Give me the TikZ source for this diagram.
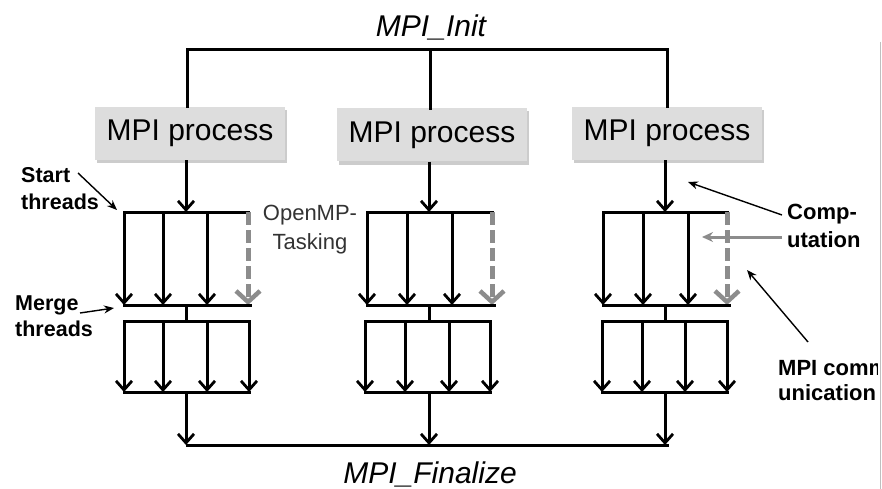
\documentclass[tikz,border=0pt]{standalone}
\usepackage{fontspec}
\setmainfont{Liberation Sans}
\usetikzlibrary{arrows.meta,shadows}
\definecolor{boxgray}{HTML}{DDDDDD}
\definecolor{dashgray}{HTML}{8C8C8C}
\definecolor{txtgray}{HTML}{333333}
\begin{document}
\begin{tikzpicture}[x=1pt,y=-1pt,
  bar/.style={line width=3pt,line cap=rect},
  arr/.style={line width=3pt,-{Straight Barb[length=9pt,width=16pt,line width=2.8pt]}},
  darr/.style={line width=5pt,draw=dashgray,dash pattern=on 13pt off 5pt,-{Straight Barb[length=11pt,width=24pt,line width=4.5pt]}},
  proc/.style={fill=boxgray,minimum width=190pt,minimum height=53pt,inner sep=0pt,
    font=\fontsize{30}{30}\selectfont,
    drop shadow={shadow xshift=2pt,shadow yshift=-3pt,opacity=0.4}},
  lbl/.style={font=\bfseries\fontsize{21.5}{27}\selectfont,align=left,inner sep=0pt,anchor=north west},
  title/.style={font=\itshape\fontsize{30}{30}\selectfont,inner sep=0pt,anchor=base},
  pointer/.style={line width=1.4pt,-{Stealth[length=10pt,width=8pt]}},
  gpointer/.style={line width=3pt,draw=dashgray,-{Stealth[length=11pt,width=10pt]}}
]
\useasboundingbox (0,0) rectangle (882,489);
\fill[white] (0,0) rectangle (882,489);
\draw[black!25,line width=0.8pt] (880,42) -- (880,489);

% MPI_Init and MPI_Finalize
\node[title] (init) at (431,37) {MPI\_Init};
\node[title] (fin) at (430,483) {MPI\_Finalize};
\coordinate (iL) at (187,50);
\coordinate (iR) at (667,50);
\coordinate (fL) at (187,445);
\coordinate (fR) at (667,445);
\draw[bar] (iL) -- (iR);
\draw[bar] (fL) -- (fR);

\foreach \g/\tx/\cx/\bx/\by/\a/\b/\c/\d/\e/\f/\h/\k in {
  1/187/186/190/133.5/124/163/207/248/124/163/207/249,
  2/430/429/432/135/367/407/452/492/365/405/449/490,
  3/667/665/667/133.5/603/643/688/727/602/642/685/727}{
  \node[proc] (p\g) at (\bx,\by) {MPI process};
  \coordinate (top\g) at (\tx,50);
  \coordinate (s\g) at (\cx,212);
  \coordinate (sa\g) at (\a,212);
  \coordinate (sb\g) at (\b,212);
  \coordinate (sc\g) at (\c,212);
  \coordinate (sd\g) at (\d,212);
  \coordinate (ma\g) at (\a,305);
  \coordinate (mb\g) at (\b,305);
  \coordinate (mc\g) at (\c,305);
  \coordinate (md\g) at (\d,305);
  \coordinate (me\g) at (\d+2,305);
  \coordinate (m\g) at (\cx,305);
  \coordinate (n\g) at (\cx,321);
  \coordinate (na\g) at (\e,321);
  \coordinate (nb\g) at (\f,321);
  \coordinate (nc\g) at (\h,321);
  \coordinate (nd\g) at (\k,321);
  \coordinate (ba\g) at (\e,392);
  \coordinate (bb\g) at (\f,392);
  \coordinate (bc\g) at (\h,392);
  \coordinate (bd\g) at (\k,392);
  \coordinate (b\g) at (\cx,392);
  \coordinate (f\g) at (\cx,445);
  \draw[bar] (top\g) -- (top\g |- p\g.north);
  \draw[arr] (s\g |- p\g.south) -- (s\g);
  \draw[bar] (sa\g) -- (sd\g);
  \draw[arr] (sa\g) -- (ma\g);
  \draw[arr] (sb\g) -- (mb\g);
  \draw[arr] (sc\g) -- (mc\g);
  \draw[darr] (sd\g) -- (md\g);
  \draw[bar] (ma\g) -- (me\g);
  \draw[bar] (m\g) -- (n\g);
  \draw[bar] (na\g) -- (nd\g);
  \draw[arr] (na\g) -- (ba\g);
  \draw[arr] (nb\g) -- (bb\g);
  \draw[arr] (nc\g) -- (bc\g);
  \draw[arr] (nd\g) -- (bd\g);
  \draw[bar] (ba\g) -- (bd\g);
  \draw[arr] (b\g) -- (f\g);
}

% labels
\node[lbl] (start) at (21,167) {Start\\threads};
\coordinate (startT) at (117,210);
\draw[pointer] (78,173) -- (startT);

\node[lbl,font=\bfseries\fontsize{21.5}{26}\selectfont] (merge) at (15,296) {Merge\\threads};
\coordinate (mergeT) at (114,308);
\draw[pointer] (80,313) -- (mergeT);

\node[inner sep=0pt,anchor=north,align=center,text=txtgray,
  font=\fontsize{22}{29}\selectfont] (omp) at (310,205) {OpenMP-\\Tasking};

\node[lbl,font=\bfseries\fontsize{22}{28}\selectfont] (comp) at (787,204) {Comp-\\utation};
\coordinate (compT1) at (688,182);
\coordinate (compT2) at (702,237);
\draw[pointer] (782,215) -- (compT1);
\draw[gpointer] (782,237) -- (compT2);

\begin{scope}
\clip (0,0) rectangle (877,489);
\node[lbl,font=\bfseries\fontsize{22}{25}\selectfont] (comm) at (778,360) {MPI comm-\\unication};
\end{scope}
\coordinate (commT) at (747,270);
\draw[pointer] (808,342) -- (commT);
\end{tikzpicture}
\end{document}
